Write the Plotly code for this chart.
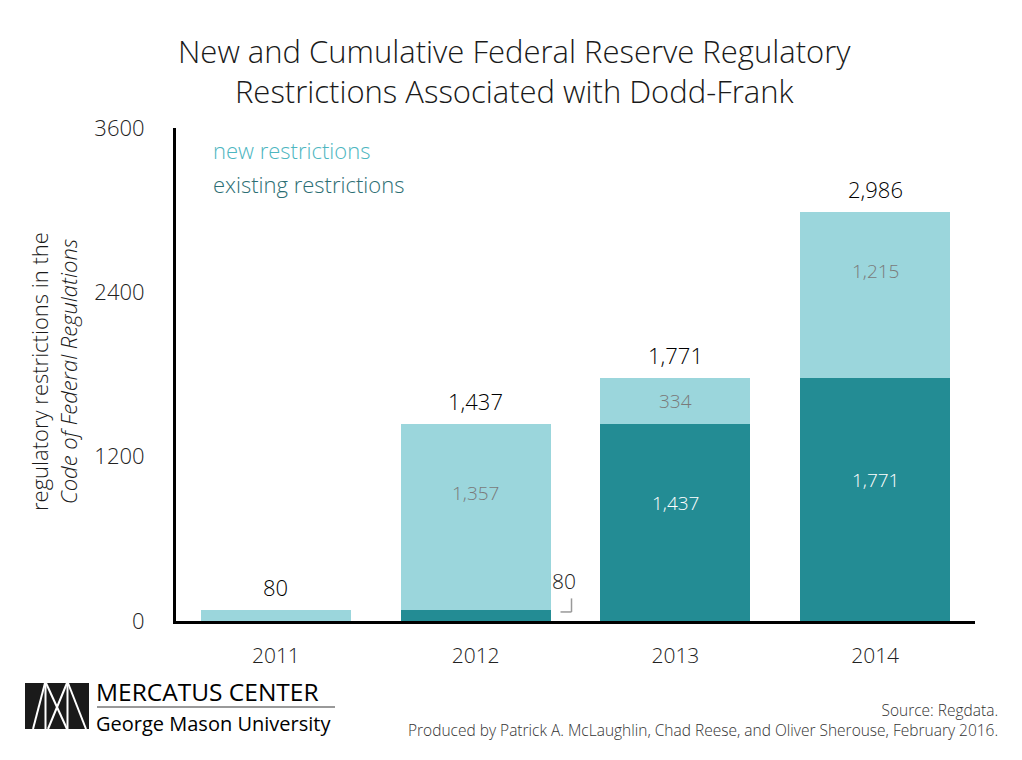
import plotly.graph_objects as go

years = ['2011', '2012', '2013', '2014']
existing = [0, 80, 1437, 1771]
new = [80, 1357, 334, 1215]
totals = [80, 1437, 1771, 2986]
y_ticks = [0, 1200, 2400, 3600]

LIGHT = '#9bd6dc'
DARK = '#238c94'
FONT = 'Open Sans'


def fmt(v):
    return '{:,}'.format(v)


fig = go.Figure()

fig.add_trace(go.Bar(x=years, y=existing, name='existing restrictions',
                     marker=dict(color=DARK, line_width=0), hoverinfo='skip'))
fig.add_trace(go.Bar(x=years, y=new, name='new restrictions',
                     marker=dict(color=LIGHT, line_width=0), hoverinfo='skip'))

fig.update_layout(
    barmode='stack', bargap=0.25, showlegend=False,
    width=1022, height=760,
    margin=dict(l=176, r=47, t=128, b=139),
    paper_bgcolor='white', plot_bgcolor='white',
    font=dict(family=FONT, color='#222'),
)
fig.update_xaxes(
    type='category', range=[-0.5, 3.5], showline=True, linecolor='black', linewidth=3,
    ticks='outside', ticklen=14, tickcolor='white', showgrid=False,
    tickfont=dict(size=21, color='#222', family=FONT, weight=300))
fig.update_yaxes(
    range=[0, 3600], tickvals=y_ticks, ticktext=[str(v) for v in y_ticks],
    showline=True, linecolor='black', linewidth=3, showgrid=False, zeroline=False,
    ticks='outside', ticklen=24, tickcolor='white',
    tickfont=dict(size=22, color='#222', family=FONT, weight=300))


def px_x(p):
    return (p - 176) / 799


def px_y(p):
    return (621 - p) / 493


ann = []
# totals above the bars (category index used as x position)
for i, t in enumerate(totals):
    ann.append(dict(text=fmt(t), x=i, y=t, xref='x', yref='y', yanchor='middle',
                    yshift=23, showarrow=False,
                    font=dict(size=22, color='black', family=FONT, weight=300)))
# values inside the segments
for i, (e, n) in enumerate(zip(existing, new)):
    if e > 500:
        ann.append(dict(text=fmt(e), x=i, y=e / 2, xref='x', yref='y', yshift=20,
                        showarrow=False,
                        font=dict(size=19, color='white', family=FONT, weight=300)))
    if n > 200:
        ann.append(dict(text=fmt(n), x=i, y=e + n / 2, xref='x', yref='y',
                        yshift=24 if n > 600 else 0, showarrow=False,
                        font=dict(size=19, color='#7a7a7a', family=FONT, weight=300)))

ann += [
    dict(text='New and Cumulative Federal Reserve Regulatory<br>Restrictions Associated with Dodd-Frank',
         xref='paper', yref='paper', x=px_x(514), y=px_y(71),
         xanchor='center', yanchor='middle', showarrow=False,
         font=dict(size=31, color='#1a1a1a', family=FONT, weight=300)),
    dict(text='new restrictions', xref='paper', yref='paper', x=px_x(211),
         y=px_y(150), xanchor='left', yanchor='middle', showarrow=False,
         font=dict(size=22, color='#4db6bf', family=FONT, weight=300)),
    dict(text='existing restrictions', xref='paper', yref='paper', x=px_x(211),
         y=px_y(184), xanchor='left', yanchor='middle', showarrow=False,
         font=dict(size=22, color='#2c6e73', family=FONT, weight=300)),
    dict(text='regulatory restrictions in the<br><i>Code of Federal Regulations</i>',
         xref='paper', yref='paper', x=px_x(53), y=px_y(372),
         xanchor='center', yanchor='middle', textangle=-90, showarrow=False,
         font=dict(size=22, color='#1a1a1a', family=FONT, weight=300)),
    dict(text=fmt(existing[1]), xref='x', yref='y', x=1.44, y=290, xanchor='center',
         yanchor='middle', showarrow=False,
         font=dict(size=21, color='#1a1a1a', family=FONT, weight=300)),
    dict(text='Source: Regdata.<br>Produced by Patrick A. McLaughlin, Chad Reese, and Oliver Sherouse, February 2016.',
         xref='paper', yref='paper', x=px_x(1000), y=px_y(697),
         xanchor='right', yanchor='top', align='right', showarrow=False,
         font=dict(size=15.5, color='#333', family=FONT, weight=300)),
    dict(text='MERCATUS CENTER', xref='paper', yref='paper', x=px_x(94),
         y=px_y(691), xanchor='left', yanchor='middle', showarrow=False,
         font=dict(size=24.5, color='black', family=FONT)),
    dict(text='George Mason University', xref='paper', yref='paper', x=px_x(94),
         y=px_y(723), xanchor='left', yanchor='middle', showarrow=False,
         font=dict(size=20, color='black', family=FONT)),
]
fig.update_layout(annotations=ann)

shapes = [
    # small bracket for the 2012 existing value
    dict(type='line', xref='x', yref='y', x0=1.48, x1=1.48, y0=165, y1=66,
         line=dict(color='#999', width=1.5)),
    dict(type='line', xref='x', yref='y', x0=1.425, x1=1.48, y0=66, y1=66,
         line=dict(color='#999', width=1.5)),
    # logo block
    dict(type='rect', xref='paper', yref='paper', x0=px_x(25), x1=px_x(89),
         y0=px_y(729), y1=px_y(683), fillcolor='#1a1a1a', line_width=0),
    dict(type='line', xref='paper', yref='paper', x0=px_x(97), x1=px_x(335),
         y0=px_y(707), y1=px_y(707), line=dict(color='#777', width=1.5)),
]
logo_lines = [
    (33, 729, 45, 683), (46, 683, 67, 729), (67, 683, 48, 729),
    (68, 683, 86, 729), (45.5, 683, 45.5, 729), (67.5, 683, 67.5, 729),
]
for x0, y0, x1, y1 in logo_lines:
    shapes.append(dict(type='line', xref='paper', yref='paper', x0=px_x(x0), x1=px_x(x1),
                       y0=px_y(y0), y1=px_y(y1), line=dict(color='white', width=2)))
fig.update_layout(shapes=shapes)

fig.write_html('out.html', config={'displayModeBar': False},
               post_script="document.body.style.margin='0';")
